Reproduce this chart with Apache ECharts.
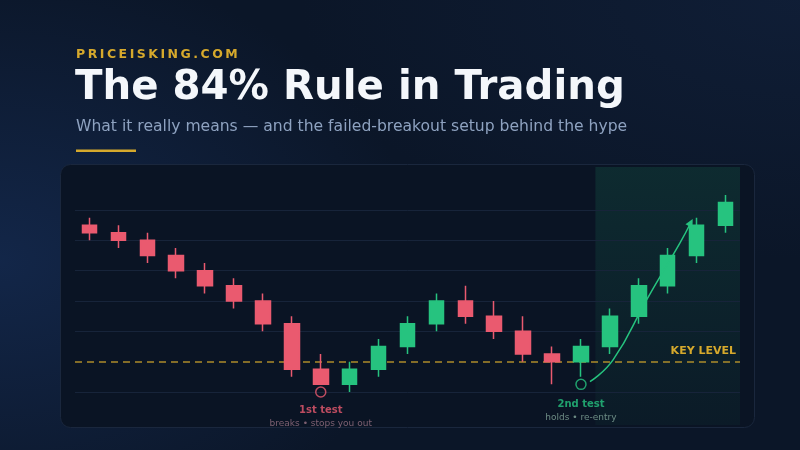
<!DOCTYPE html>
<html>
<head>
<meta charset="utf-8">
<title>The 84% Rule in Trading</title>
<script src="https://cdn.jsdelivr.net/npm/echarts@6/dist/echarts.min.js"></script>
<style>
  html, body { margin: 0; padding: 0; }
  body {
    width: 800px;
    height: 450px;
    overflow: hidden;
    background: radial-gradient(ellipse 420px 300px at 0% 58%, rgba(28, 58, 112, 0.45), rgba(28, 58, 112, 0) 100%),
      radial-gradient(ellipse 500px 260px at 100% 0%, rgba(24, 44, 80, 0.35), rgba(24, 44, 80, 0) 100%),
      #0b1628;
  }
  #chart { width: 800px; height: 450px; }
</style>
</head>
<body>
<div id="chart"></div>
<script>
// candles (key level = 100, one grid step = 10)
const categories = ['1', '2', '3', '4', '5', '6', '7', '8', '9', '10', '11', '12',
  '13', '14', '15', '16', '17', '18', '19', '20', '21', '22', '23']
const opens = [145, 142.5, 140, 135, 130, 125, 120, 112.5, 97.5, 92.5, 97.5, 105,
  112.5, 120, 115, 110, 102.5, 100, 105, 115, 125, 135, 145]
const closes = [142.5, 140, 135, 130, 125, 120, 112.5, 97.5, 92.5, 97.5, 105, 112.5,
  120, 115, 110, 102.5, 100, 105, 115, 125, 135, 145, 152.5]
const lows = [140, 137.5, 132.5, 127.5, 122.5, 117.5, 110, 95, 92.5, 90, 95, 102.5,
  110, 112.5, 107.5, 100, 92.5, 95, 102.5, 112.5, 122.5, 132.5, 142.5]
const highs = [147.5, 145, 142.5, 137.5, 132.5, 127.5, 122.5, 115, 102.5, 100, 107.5, 115,
  122.5, 125, 120, 115, 105, 107.5, 117.5, 127.5, 137.5, 147.5, 155]

const keyLevel = 100
const gridLevels = [90, 110, 120, 130, 140, 150]

// the two tests of the key level
const testIndex = [8, 17]
const testValue = [90, 92.5]
const testTitles = ['1st test', '2nd test']
const testNotes = ['breaks • stops you out', 'holds • re-entry']

// re-entry arrow (x in candle widths from the left edge, 0..23)
const arrowX = [17.81, 18.61, 19.77, 20.92, 21.3]
const arrowY = [93.4, 100.6, 120.4, 139.1, 145.9]

// highlighted breakout zone (candle widths)
const zoneFrom = 18
const zoneTo = 23

const RED = '#ea5a6f'
const GREEN = '#26c37f'
const GOLD = '#d6a92c'

const spaced = (s, sep) => s.split('').join(sep)

const chart = echarts.init(document.getElementById('chart'), null, { renderer: 'canvas' })

chart.setOption({
  backgroundColor: 'transparent',
  animation: false,
  textStyle: { fontFamily: 'DejaVu Sans' },
  grid: { left: 75, right: 60, top: 167, bottom: 25 },
  xAxis: [{
    type: 'category',
    data: categories,
    boundaryGap: true,
    show: false
  }, {
    type: 'value',
    min: 0,
    max: categories.length,
    show: false
  }],
  yAxis: {
    type: 'value',
    min: 79.1,
    max: 164.2,
    show: false,
    splitLine: { show: false }
  },
  graphic: [
    {
      type: 'rect',
      z: -10,
      shape: { x: 60.5, y: 164.5, width: 694, height: 263, r: 10 },
      style: { fill: '#0a1424', stroke: '#1a273d', lineWidth: 1 }
    },
    {
      type: 'text',
      x: 76,
      y: 55,
      style: {
        text: spaced('PRICEISKING.COM', '\u2009'),
        fill: GOLD,
        font: 'bold 12.5px "DejaVu Sans"',
        verticalAlign: 'middle'
      }
    },
    {
      type: 'text',
      x: 75,
      y: 89,
      style: {
        text: 'The 84% Rule in Trading',
        fill: '#f4f7fb',
        font: 'bold 40.3px "DejaVu Sans"',
        verticalAlign: 'middle'
      }
    },
    {
      type: 'text',
      x: 76,
      y: 127,
      style: {
        text: 'What it really means — and the failed-breakout setup behind the hype',
        fill: '#8ea2c0',
        font: '15.6px "DejaVu Sans"',
        verticalAlign: 'middle'
      }
    },
    {
      type: 'rect',
      shape: { x: 76, y: 149.5, width: 60, height: 2.5 },
      style: { fill: GOLD }
    }
  ],
  series: [
    {
      // background layer: breakout zone, grid lines, key level
      type: 'line',
      xAxisIndex: 1,
      data: [],
      z: 1,
      markArea: {
        silent: true,
        z: 1,
        itemStyle: {
          color: {
            type: 'linear', x: 0, y: 0, x2: 0, y2: 1,
            colorStops: [
              { offset: 0, color: 'rgba(38, 195, 127, 0.13)' },
              { offset: 1, color: 'rgba(38, 195, 127, 0.04)' }
            ]
          }
        },
        data: [[{ xAxis: zoneFrom }, { xAxis: zoneTo }]]
      },
      markLine: {
        silent: true,
        z: 1,
        symbol: 'none',
        animation: false,
        data: gridLevels.map(v => ({
          yAxis: v,
          lineStyle: { color: '#17243a', width: 1, type: 'solid' },
          label: { show: false }
        })).concat([{
          yAxis: keyLevel,
          lineStyle: { color: 'rgba(214, 169, 44, 0.8)', width: 1.5, type: [7, 5] },
          label: {
            show: true,
            position: 'insideEndTop',
            distance: [4, 5],
            formatter: 'KEY LEVEL',
            color: GOLD,
            fontSize: 11,
            fontWeight: 'bold'
          }
        }])
      }
    },
    {
      type: 'candlestick',
      data: opens.map((o, i) => [o, closes[i], lows[i], highs[i]]),
      barWidth: 15,
      z: 3,
      itemStyle: {
        color: GREEN,
        color0: RED,
        borderColor: GREEN,
        borderColor0: RED,
        borderWidth: 1.5
      }
    },
    {
      type: 'line',
      xAxisIndex: 1,
      smooth: true,
      z: 4,
      data: arrowX.map((x, i) => {
        const last = i === arrowX.length - 1
        return {
          value: [x, arrowY[i]],
          symbol: last ? 'triangle' : 'none',
          symbolSize: last ? 8 : 0,
          symbolRotate: last ? -28 : 0
        }
      }),
      lineStyle: { color: GREEN, width: 1.5 },
      itemStyle: { color: GREEN, borderWidth: 0 }
    },
    {
      type: 'scatter',
      z: 5,
      symbol: 'circle',
      symbolSize: 10,
      data: testIndex.map((idx, i) => ({
        value: [idx, testValue[i]],
        itemStyle: {
          color: 'rgba(0, 0, 0, 0)',
          borderColor: i === 0 ? RED : GREEN,
          borderWidth: 1.5
        },
        label: {
          show: true,
          position: 'bottom',
          distance: i === 0 ? 6 : 8,
          align: 'center',
          lineHeight: 13,
          formatter: '{t|' + testTitles[i] + '}\n{n|' + testNotes[i] + '}',
          rich: {
            t: { fontSize: 10, fontWeight: 'bold', color: i === 0 ? RED : GREEN, lineHeight: 13 },
            n: { fontSize: 9, color: i === 0 ? '#9a7384' : '#84a89b', lineHeight: 13 }
          }
        }
      }))
    }
  ]
})
</script>
</body>
</html>
